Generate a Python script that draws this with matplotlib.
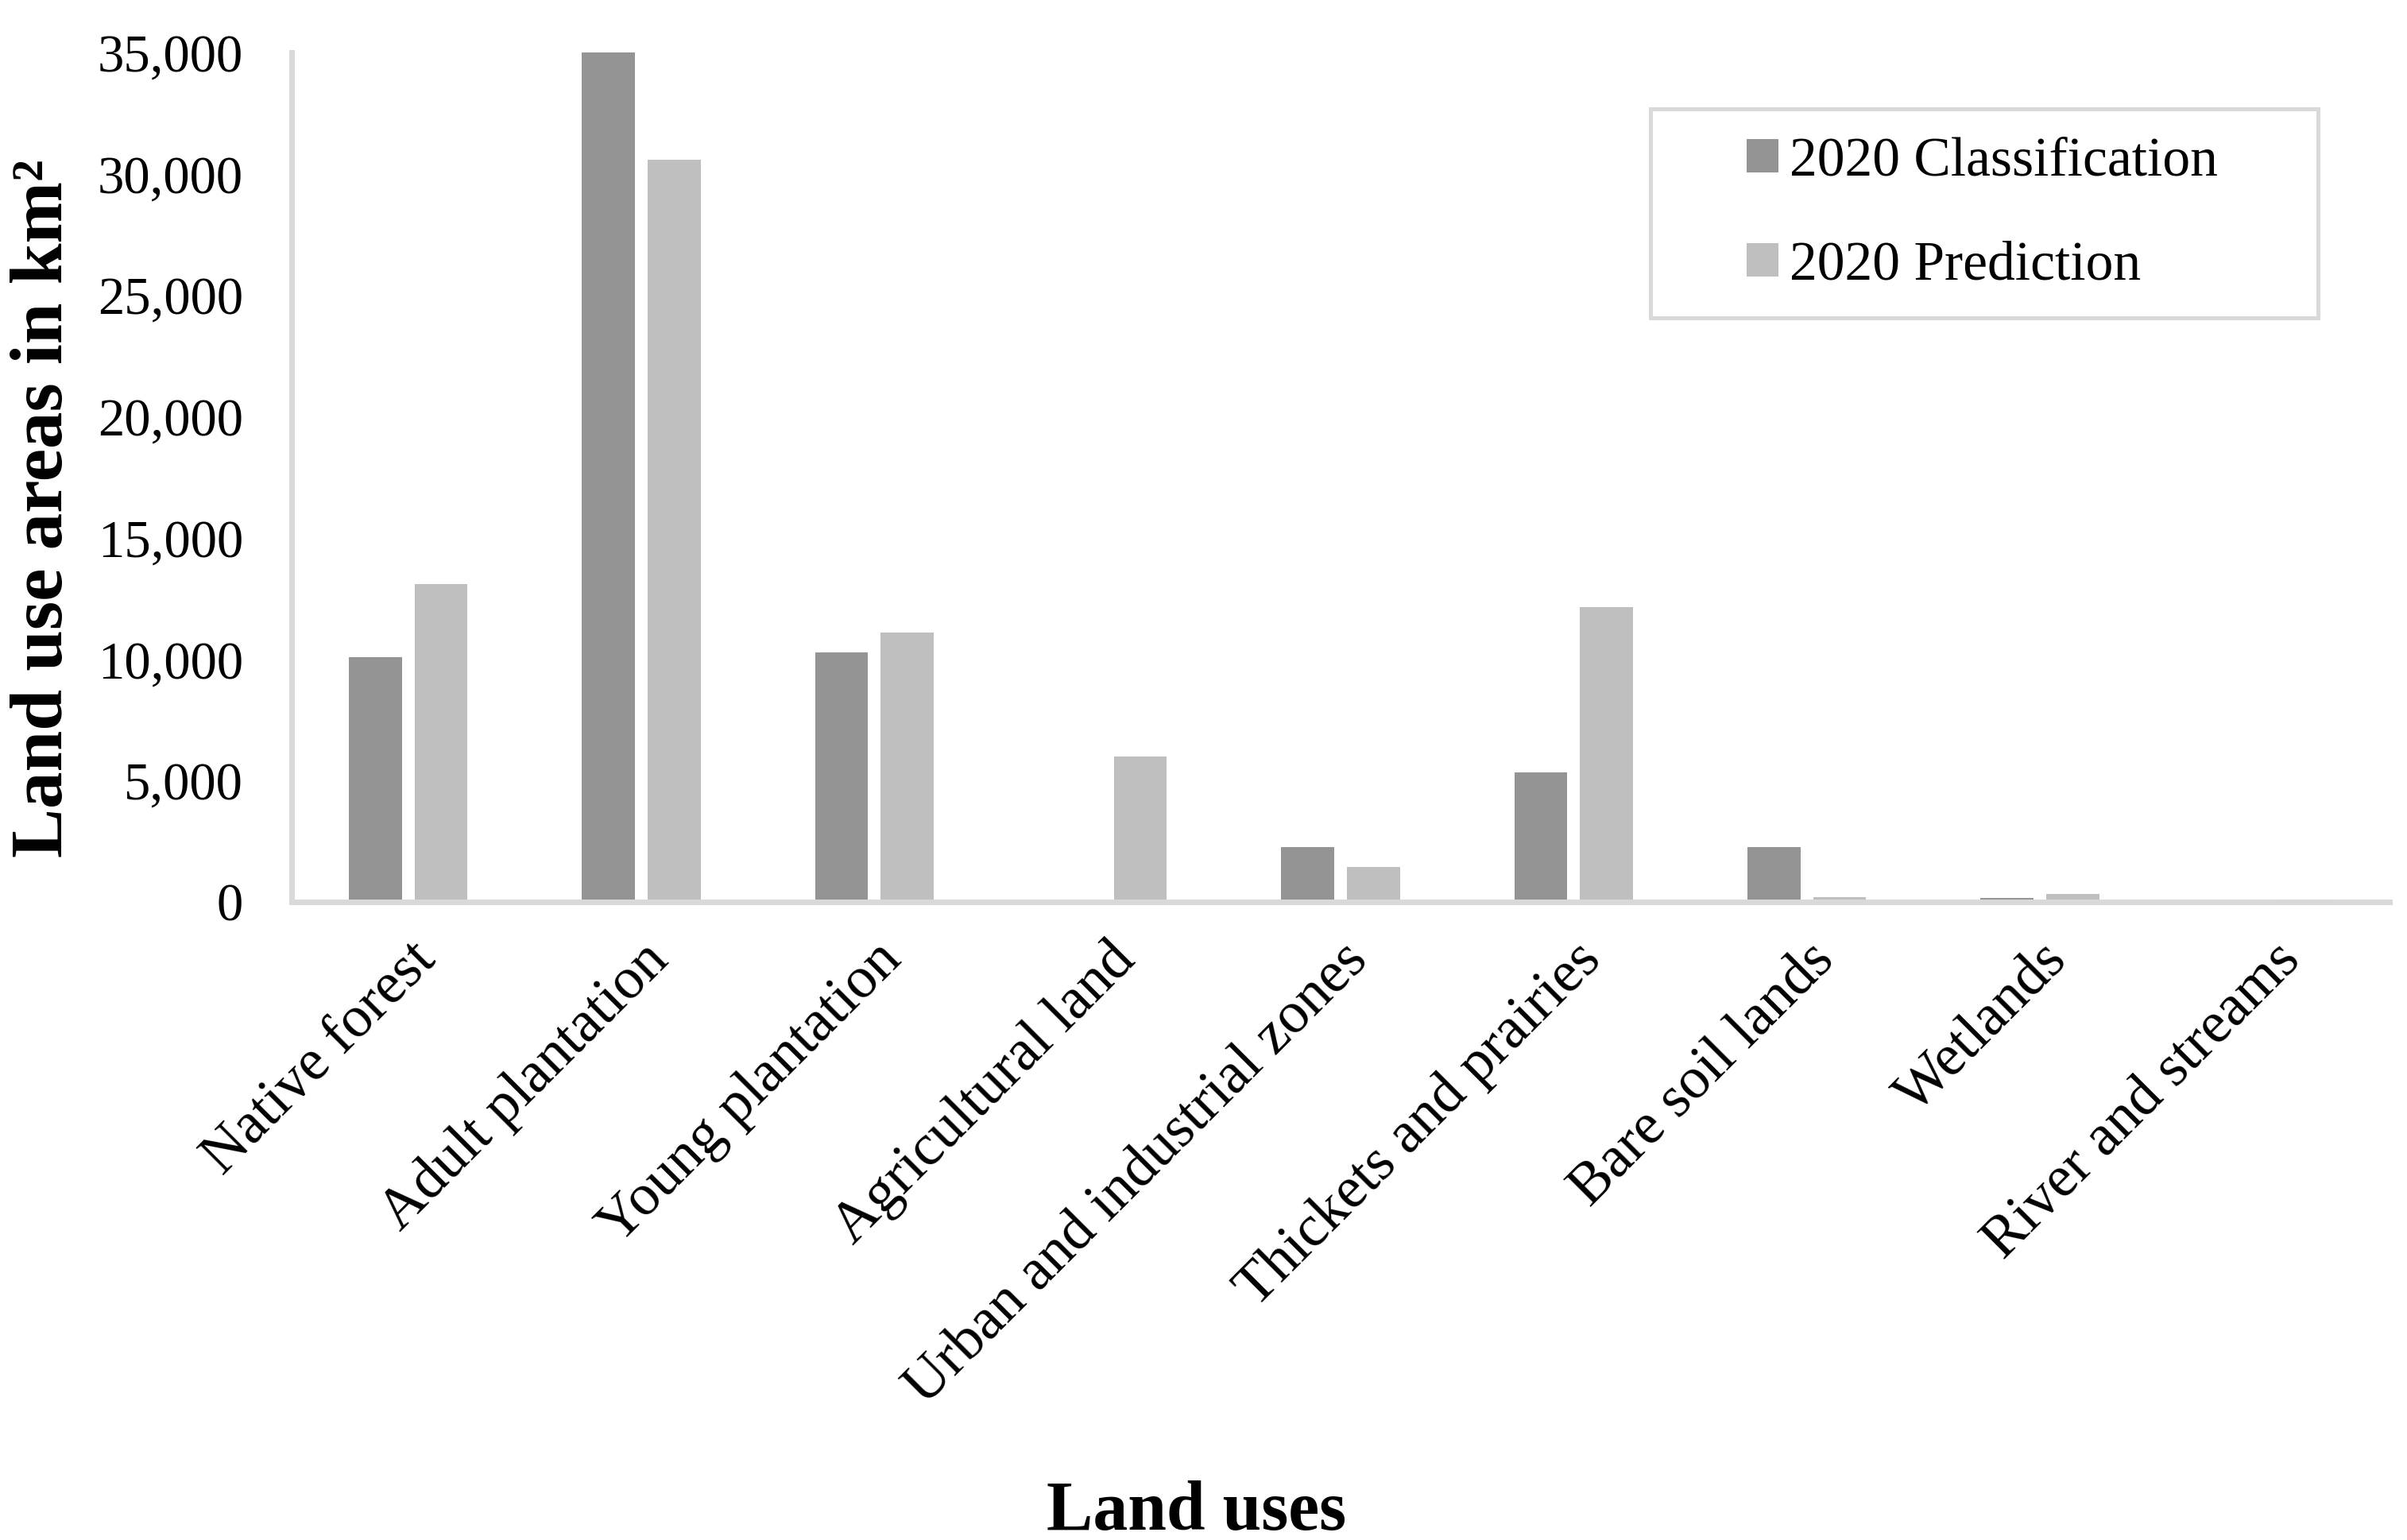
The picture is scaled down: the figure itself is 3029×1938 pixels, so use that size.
import matplotlib
matplotlib.use("Agg")
import matplotlib.pyplot as plt
from matplotlib.patches import Rectangle
from matplotlib.ticker import FuncFormatter
import numpy as np

categories = ["Native forest", "Adult plantation", "Young plantation", "Agricultural land",
              "Urban and industrial zones", "Thickets and prairies", "Bare soil lands",
              "Wetlands", "River and streams"]
classification_2020 = [10080, 35000, 10280, 0, 2260, 5340, 2260, 150, 60]
prediction_2020 = [13100, 30580, 11100, 5990, 1440, 12150, 200, 330, 90]
series_labels = ["2020 Classification", "2020 Prediction"]
yticks = [0, 5000, 10000, 15000, 20000, 25000, 30000, 35000]

W, H = 3029, 1938
fig = plt.figure(figsize=(W / 100, H / 100), dpi=100)
plt.rcParams['font.family'] = ['Liberation Serif', 'DejaVu Serif']

ax = fig.add_axes([367 / W, 1 - 1135 / H, (3007 - 367) / W, (1135 - 66) / H])

x = np.arange(len(categories))
bw = 0.228
off = 0.141
b1 = ax.bar(x - off, classification_2020, bw, color='#949494', zorder=1)
b2 = ax.bar(x + off, prediction_2020, bw, color='#bfbfbf', zorder=1)

ax.set_xlim(-0.5, len(categories) - 0.5)
ax.set_ylim(0, 35000)
ax.set_yticks(yticks)
ax.yaxis.set_major_formatter(FuncFormatter(lambda v, p: f"{v:,.0f}"))
ax.tick_params(axis='y', length=0, pad=44, labelsize=48)
ax.tick_params(axis='x', length=0, pad=28, labelsize=53)
ax.set_xticks(x)
ax.set_xticklabels(categories, rotation=45, ha='right', va='top', rotation_mode='anchor')

for s in ['top', 'right']:
    ax.spines[s].set_visible(False)
for s in ['left', 'bottom']:
    ax.spines[s].set_color('#d9d9d9')
    ax.spines[s].set_linewidth(5)
    ax.spines[s].set_zorder(2)

fig.text(56 / W, 1 - 640 / H, "Land use areas in km²", rotation=90, ha='center', va='center',
         fontsize=67, fontweight='bold')
fig.text(1506 / W, 1 - 1925 / H, "Land uses", ha='center', va='baseline',
         fontsize=63, fontweight='bold')

ax.legend([b1, b2], series_labels, loc='center left',
          bbox_to_anchor=(2198 / W, 1 - 269 / H), bbox_transform=fig.transFigure,
          frameon=False, borderpad=0, borderaxespad=0, handlelength=0.58, handleheight=0.55,
          handletextpad=0.2, labelspacing=0.97, fontsize=50)
fig.add_artist(Rectangle((2077 / W, 1 - 400 / H), (2917 - 2077) / W, (400 - 137) / H,
                         transform=fig.transFigure, fill=False, edgecolor='#d9d9d9', lw=3.6))

fig.savefig("out.png", dpi=100, facecolor='white')
